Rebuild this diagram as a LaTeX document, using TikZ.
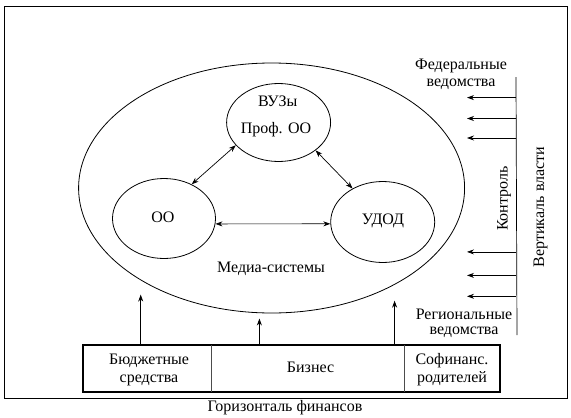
\documentclass[tikz,border=0pt]{standalone}
\usepackage{fontspec}
\setmainfont{Liberation Serif}
\usetikzlibrary{shapes.geometric,arrows.meta,calc}
\begin{document}
\begin{tikzpicture}[x=1pt,y=-1pt,
  txt/.style={font=\fontsize{16}{18}\selectfont, inner sep=0pt},
  circ/.style={draw, ellipse, line width=0.8pt, inner sep=0pt},
  arr/.style={-{Stealth[length=7pt,width=5pt]}, line width=0.7pt},
  darr/.style={{Stealth[length=7pt,width=5pt]}-{Stealth[length=7pt,width=5pt]}, line width=0.7pt}]
\useasboundingbox (0,0) rectangle (571,418);
% frame
\draw[line width=0.8pt] (4.5,6) rectangle (567,398);
% big ellipse
\node[circ, minimum width=386, minimum height=250] (media) at (271.6,188) {};
\node[txt] (mediat) at (271,269) {Медиа-системы};
% inner circles
\node[circ, minimum width=104, minimum height=78] (vuz) at (278.6,122.5) {};
\node[txt] (vuzt) at (277.7,101) {ВУЗы};
\node[txt] (proft) at (276,129.6) {Проф. ОО};
\node[circ, minimum width=103, minimum height=80] (oo) at (164,218.5) {};
\node[txt] (oot) at (163,217) {ОО};
\node[circ, minimum width=104, minimum height=81] (udod) at (382.7,222) {};
\node[txt] (udodt) at (383,220.5) {УДОД};
% connectors
\draw[darr] (oo.51) -- (vuz.208);
\draw[darr] (vuz.-37) -- (udod.132);
\draw[darr] (oo.-6) -- (udod.182);
% right vertical line
\coordinate (vtop) at (516,77);
\coordinate (vbot) at (517,335);
\draw[line width=0.7pt] (vtop) -- (vbot);
\foreach \i/\yy in {1/97.6,2/118.5,3/138,4/251.9,5/275.4,6/296.3}{
  \coordinate (rs\i) at (516,\yy);
  \coordinate (re\i) at (467,\yy);
  \draw[arr] (rs\i) -- (re\i);
}
\node[txt] (fed1) at (461,65.7) {Федеральные};
\node[txt] (fed2) at (461,84) {ведомства};
\node[txt] (reg1) at (464,314) {Региональные};
\node[txt] (reg2) at (464,332.6) {ведомства};
\node[txt, rotate=90] (kontr) at (504,198.6) {Контроль};
\node[txt, rotate=90] (vert) at (540.7,207) {Вертикаль власти};
% bottom box
\node[draw, line width=2pt, minimum width=416.5, minimum height=46.6, inner sep=0pt] (box) at (291.5,368.3) {};
\draw[line width=0.5pt, black!70] (211,345) -- (211,391.6);
\draw[line width=0.5pt, black!70] (404.5,345) -- (404.5,391.6);
\node[txt, align=center] (bud) at (149,370) {Бюджетные\\средства};
\node[txt] (biz) at (310.6,367.7) {Бизнес};
\node[txt, align=center] (sof) at (452,369.5) {Софинанс.\\родителей};
% up arrows
\coordinate (u1s) at (140.7,345);
\coordinate (u1e) at (140.7,294.6);
\coordinate (u2s) at (259.4,345);
\coordinate (u2e) at (259.4,318.5);
\coordinate (u3s) at (394.6,345);
\coordinate (u3e) at (394.6,300.7);
\draw[arr] (u1s) -- (u1e);
\draw[arr] (u2s) -- (u2e);
\draw[arr] (u3s) -- (u3e);
\node[txt] (hor) at (285,408) {Горизонталь финансов};
\end{tikzpicture}
\end{document}
